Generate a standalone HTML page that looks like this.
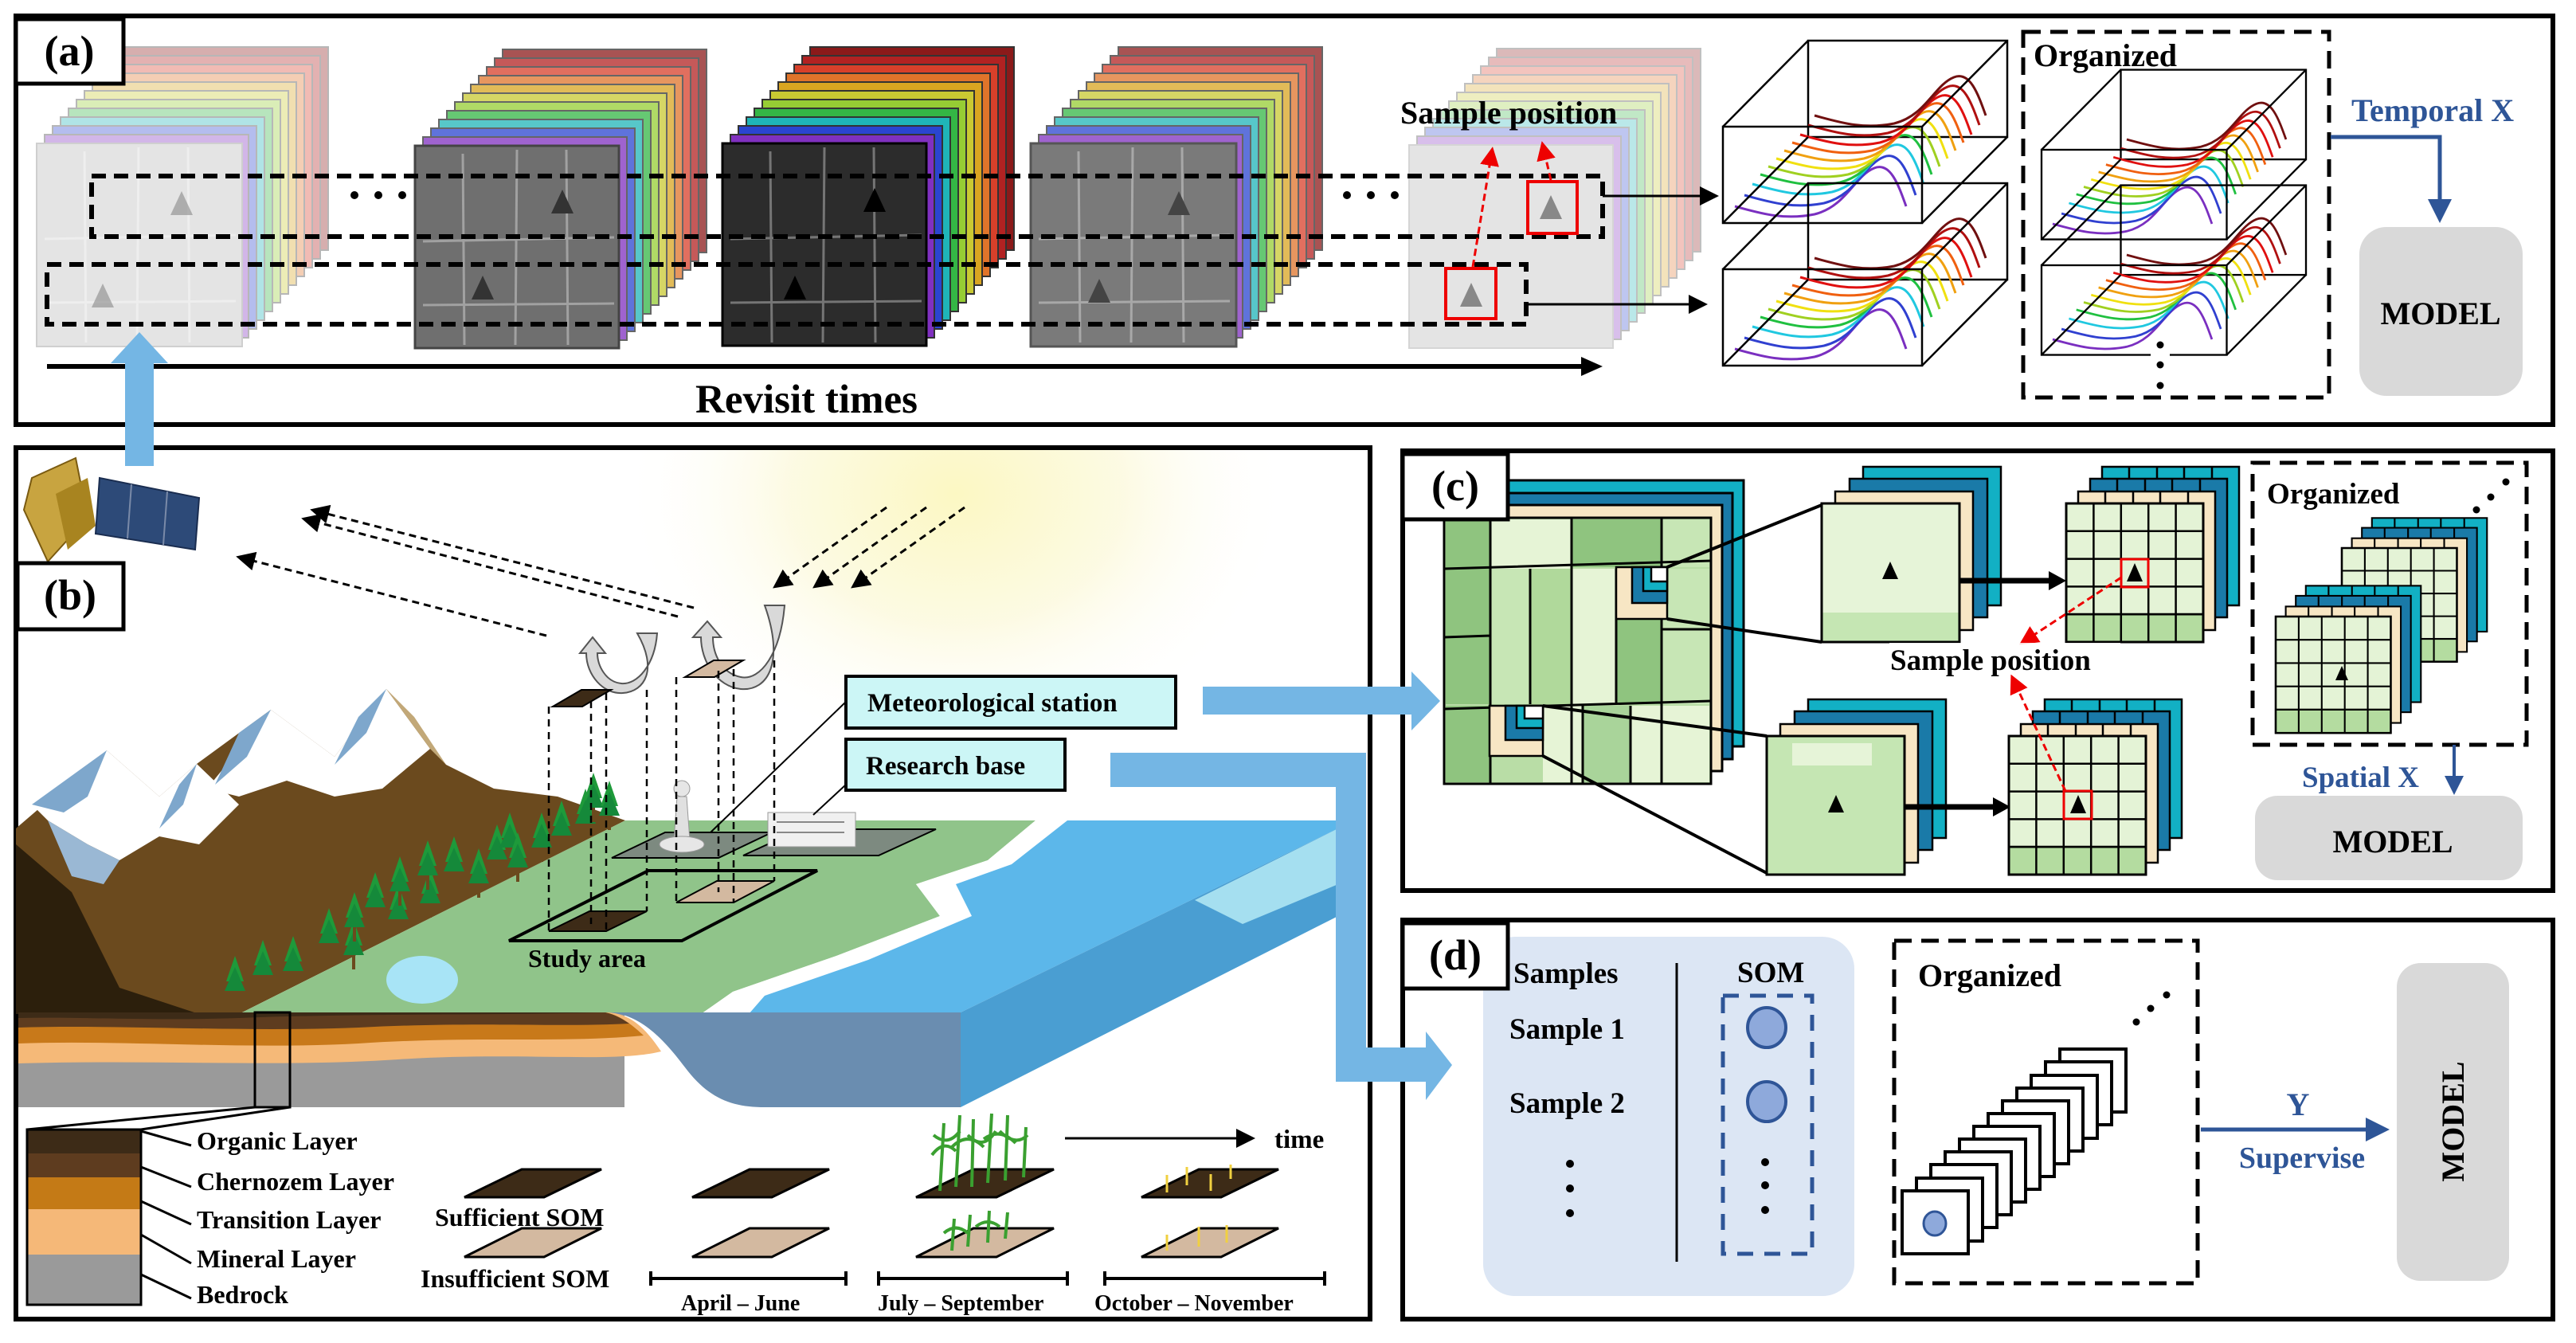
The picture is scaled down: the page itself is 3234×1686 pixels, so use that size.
<!DOCTYPE html>
<html><head><meta charset="utf-8"><style>
html,body{margin:0;padding:0;background:#fff;}
svg{display:block;}
text{font-family:"Liberation Serif",serif;font-weight:bold;}
</style></head><body>
<svg width="3234" height="1686" viewBox="0 0 3234 1686" xmlns="http://www.w3.org/2000/svg">
<defs>
<radialGradient id="sun" cx="0.5" cy="0.5" r="0.5">
<stop offset="0" stop-color="#fbf6b4"/><stop offset="0.5" stop-color="#fcf9dc"/><stop offset="1" stop-color="#ffffff" stop-opacity="0"/>
</radialGradient>
<clipPath id="clipb"><rect x="23" y="565" width="1694" height="1088"/></clipPath>
<marker id="ah" markerWidth="8" markerHeight="8" refX="6" refY="4" orient="auto" markerUnits="strokeWidth"><path d="M0,0 L8,4 L0,8 z" fill="#000"/></marker>
<marker id="ahr" markerWidth="8" markerHeight="8" refX="6" refY="4" orient="auto" markerUnits="strokeWidth"><path d="M0,0 L8,4 L0,8 z" fill="#e00"/></marker>
<marker id="ahb" markerWidth="6" markerHeight="6" refX="4" refY="3" orient="auto" markerUnits="strokeWidth"><path d="M0,0 L6,3 L0,6 z" fill="#2e5597"/></marker>
<g id="layers">
<rect x="110" y="-121" width="256" height="255" fill="#8b1a1a" stroke="#333" stroke-width="2"/>
<rect x="100" y="-110" width="256" height="255" fill="#b22222" stroke="#333" stroke-width="2"/>
<rect x="90" y="-99" width="256" height="255" fill="#d8402a" stroke="#333" stroke-width="2"/>
<rect x="80" y="-88" width="256" height="255" fill="#e0742a" stroke="#333" stroke-width="2"/>
<rect x="70" y="-77" width="256" height="255" fill="#d9a521" stroke="#333" stroke-width="2"/>
<rect x="60" y="-66" width="256" height="255" fill="#c9c932" stroke="#333" stroke-width="2"/>
<rect x="50" y="-55" width="256" height="255" fill="#96cd34" stroke="#333" stroke-width="2"/>
<rect x="40" y="-44" width="256" height="255" fill="#34b645" stroke="#333" stroke-width="2"/>
<rect x="30" y="-33" width="256" height="255" fill="#1fb5b8" stroke="#333" stroke-width="2"/>
<rect x="20" y="-22" width="256" height="255" fill="#2a45d0" stroke="#333" stroke-width="2"/>
<rect x="10" y="-11" width="256" height="255" fill="#8030c0" stroke="#333" stroke-width="2"/>
</g>
<g id="fieldlines" stroke="#ffffff" stroke-opacity="0.35" stroke-width="3" fill="none">
<path d="M10,120 L250,115 M128,5 L126,250 M10,200 L250,198 M60,10 L62,250 M190,5 L192,250"/>
</g>
<g id="curves" fill="none" stroke-width="3">
<path d="M0,40 C30,48 60,58 100,50 C140,40 150,2 175,-8 C195,-16 205,12 215,40" stroke="#7a2fc0" transform="translate(0,40)"/>
<path d="M0,40 C30,48 60,58 100,50 C140,40 150,2 175,-8 C195,-16 205,12 215,40" stroke="#3040d0" transform="translate(12,26)"/>
<path d="M0,40 C30,48 60,58 100,50 C140,40 150,2 175,-8 C195,-16 205,12 215,40" stroke="#20c8e0" transform="translate(22,12)"/>
<path d="M0,40 C30,48 60,58 100,50 C140,40 150,2 175,-8 C195,-16 205,12 215,40" stroke="#20c040" transform="translate(32,0)"/>
<path d="M0,40 C30,48 60,58 100,50 C140,40 150,2 175,-8 C195,-16 205,12 215,40" stroke="#a0d020" transform="translate(42,-10)"/>
<path d="M0,40 C30,48 60,58 100,50 C140,40 150,2 175,-8 C195,-16 205,12 215,40" stroke="#f0e010" transform="translate(52,-20)"/>
<path d="M0,40 C30,48 60,58 100,50 C140,40 150,2 175,-8 C195,-16 205,12 215,40" stroke="#f0a010" transform="translate(62,-30)"/>
<path d="M0,40 C30,48 60,58 100,50 C140,40 150,2 175,-8 C195,-16 205,12 215,40" stroke="#f06010" transform="translate(72,-40)"/>
<path d="M0,40 C30,48 60,58 100,50 C140,40 150,2 175,-8 C195,-16 205,12 215,40" stroke="#e01010" transform="translate(82,-50)"/>
<path d="M0,40 C30,48 60,58 100,50 C140,40 150,2 175,-8 C195,-16 205,12 215,40" stroke="#b01010" transform="translate(92,-62)"/>
<path d="M0,40 C30,48 60,58 100,50 C140,40 150,2 175,-8 C195,-16 205,12 215,40" stroke="#701010" transform="translate(100,-74)"/>
</g>
<g id="cube" fill="none" stroke="#000" stroke-width="2.5">
<rect x="107" y="-108" width="250" height="121"/>
<use href="#curves" transform="translate(15,20)"/>
<rect x="0" y="0" width="250" height="121"/>
<path d="M0,0 L107,-108 M250,0 L357,-108 M250,121 L357,13 M0,121 L107,13"/>
</g>
<g id="tree"><rect x="-2" y="0" width="4" height="22" fill="#6b4a1e"/><polygon points="0,-40 -11,-8 11,-8" fill="#1e9a3a"/><polygon points="0,-26 -13,4 13,4" fill="#15893a"/></g>
<g id="grid5" stroke="#000" stroke-width="2.5">
<rect x="0" y="0" width="172" height="174" fill="#e4f3d6"/>
<rect x="0" y="139" width="172" height="35" fill="#b4dca0"/>
<path d="M34.4,0 V174 M68.8,0 V174 M103.2,0 V174 M137.6,0 V174 M0,34.8 H172 M0,69.6 H172 M0,104.4 H172 M0,139.2 H172" fill="none"/>
<rect x="0" y="0" width="172" height="174" fill="none" stroke-width="3"/>
</g>
<g id="gridback" stroke="#000" stroke-width="2.5">
<rect x="45" y="-46" width="172" height="174" fill="#12b0c4"/>
<path d="M79,-46 V-28 M114,-46 V-28 M148,-46 V-28 M183,-46 V-28" fill="none"/>
<rect x="30" y="-31" width="172" height="174" fill="#1a7aa8"/>
<path d="M64,-31 V-13 M99,-31 V-13 M133,-31 V-13 M168,-31 V-13" fill="none"/>
<rect x="15" y="-15" width="172" height="174" fill="#f7e6c4"/>
<path d="M49,-15 V0 M84,-15 V0 M118,-15 V0 M153,-15 V0" fill="none"/>
<use href="#grid5"/>
</g>
<g id="tileback" stroke="#000" stroke-width="2.5">
<rect x="52" y="-46" width="173" height="174" fill="#12b0c4"/>
<rect x="35" y="-31" width="173" height="174" fill="#1a7aa8"/>
<rect x="17" y="-15" width="173" height="174" fill="#f7e6c4"/>
<rect x="0" y="0" width="173" height="174" fill="#e6f4d8"/>
</g>
<g id="frame"><rect x="0" y="0" width="83" height="79" fill="#fff" stroke="#000" stroke-width="4"/></g>
</defs>

<!-- ============ PANEL A ============ -->
<rect x="20" y="20" width="3185" height="513" fill="#fff" stroke="#000" stroke-width="6"/>
<g opacity="0.35"><use href="#layers" x="46" y="180"/><rect x="46" y="180" width="258" height="255" fill="#b5b5b5" stroke="#777" stroke-width="2"/><use href="#fieldlines" x="46" y="180"/></g>
<g opacity="0.75"><use href="#layers" x="521" y="183"/></g>
<rect x="521" y="183" width="256" height="254" fill="#6f6f6f" stroke="#444" stroke-width="3"/><use href="#fieldlines" x="521" y="183"/>
<use href="#layers" x="907" y="180"/>
<rect x="907" y="180" width="256" height="254" fill="#2c2c2c" stroke="#000" stroke-width="3"/><use href="#fieldlines" x="907" y="180"/>
<g opacity="0.75"><use href="#layers" x="1294" y="180"/></g>
<rect x="1294" y="180" width="258" height="255" fill="#7a7a7a" stroke="#555" stroke-width="3"/><use href="#fieldlines" x="1294" y="180"/>
<g opacity="0.3"><use href="#layers" x="1769" y="182"/><rect x="1769" y="182" width="256" height="255" fill="#a8a8a8" stroke="#777" stroke-width="2"/></g>
<g>
<polygon points="228,240 214,270 242,270" fill="#888" opacity="0.6"/>
<polygon points="129,356 115,386 143,386" fill="#888" opacity="0.6"/>
<polygon points="706,238 692,268 720,268" fill="#333"/>
<polygon points="606,346 592,376 620,376" fill="#333"/>
<polygon points="1098,236 1084,266 1112,266" fill="#000"/>
<polygon points="998,346 984,376 1012,376" fill="#000"/>
<polygon points="1480,240 1466,270 1494,270" fill="#444"/>
<polygon points="1380,350 1366,380 1394,380" fill="#444"/>
<polygon points="1947,245 1933,275 1961,275" fill="#888"/>
<polygon points="1847,355 1833,385 1861,385" fill="#888"/>
</g>
<rect x="115" y="221" width="1897" height="76" fill="none" stroke="#000" stroke-width="6" stroke-dasharray="18,10"/>
<rect x="59" y="332" width="1857" height="75" fill="none" stroke="#000" stroke-width="6" stroke-dasharray="18,10"/>
<g fill="#000"><circle cx="445" cy="245" r="5"/><circle cx="475" cy="245" r="5"/><circle cx="505" cy="245" r="5"/>
<circle cx="1691" cy="245" r="5"/><circle cx="1721" cy="245" r="5"/><circle cx="1751" cy="245" r="5"/></g>
<rect x="1918" y="228" width="62" height="65" fill="none" stroke="#e00" stroke-width="4"/>
<rect x="1815" y="337" width="63" height="63" fill="none" stroke="#e00" stroke-width="4"/>
<line x1="1947" y1="226" x2="1937" y2="183" stroke="#e00" stroke-width="3" stroke-dasharray="9,5" marker-end="url(#ahr)"/>
<line x1="1849" y1="335" x2="1873" y2="190" stroke="#e00" stroke-width="3" stroke-dasharray="9,5" marker-end="url(#ahr)"/>
<text x="1758" y="155" font-size="40">Sample position</text>
<line x1="2012" y1="246" x2="2152" y2="246" stroke="#000" stroke-width="3" marker-end="url(#ah)"/>
<line x1="1916" y1="382" x2="2138" y2="382" stroke="#000" stroke-width="3" marker-end="url(#ah)"/>
<line x1="59" y1="460" x2="1990" y2="460" stroke="#000" stroke-width="6"/>
<polygon points="1985,448 2012,460 1985,472" fill="#000"/>
<text x="873" y="518" font-size="51">Revisit times</text>
<use href="#cube" x="2163" y="159"/>
<use href="#cube" x="2163" y="338"/>
<rect x="2540" y="40" width="384" height="459" fill="none" stroke="#000" stroke-width="5" stroke-dasharray="22,12"/>
<rect x="2550" y="50" width="210" height="40" fill="#fff"/>
<text x="2553" y="83" font-size="40">Organized</text>
<use href="#cube" transform="translate(2563,188) scale(0.93,0.93)"/>
<use href="#cube" transform="translate(2563,333) scale(0.93,0.93)"/>
<rect x="2700" y="425" width="24" height="70" fill="#fff"/>
<g fill="#000"><circle cx="2712" cy="433" r="4.5"/><circle cx="2712" cy="458" r="4.5"/><circle cx="2712" cy="484" r="4.5"/></g>
<text x="2952" y="152" font-size="40" fill="#2e5597">Temporal X</text>
<polyline points="2926,172 3063,172 3063,270" fill="none" stroke="#2e5597" stroke-width="5" marker-end="url(#ahb)"/>
<rect x="2962" y="285" width="205" height="212" rx="34" fill="#d9d9d9"/>
<text x="3064" y="407" font-size="40" text-anchor="middle">MODEL</text>
<rect x="20" y="24" width="135" height="81" fill="#fff" stroke="#000" stroke-width="5"/>
<text x="87" y="82" font-size="54" text-anchor="middle" font-weight="normal">(a)</text>

<!-- ============ PANEL B ============ -->
<rect x="20" y="562" width="1700" height="1094" fill="#fff" stroke="#000" stroke-width="6"/>
<g clip-path="url(#clipb)"><ellipse cx="1200" cy="620" rx="420" ry="330" fill="url(#sun)" opacity="0.8"/></g>
<rect x="157" y="450" width="36" height="135" fill="#74b6e4"/>
<polygon points="139,456 175,417 211,456" fill="#74b6e4"/>
<g>
<polygon points="40,600 95,575 110,650 60,705 30,640" fill="#c8a440" stroke="#7a5a10" stroke-width="2"/>
<polygon points="70,620 110,600 120,660 85,690" fill="#a88420"/>
<polygon points="125,600 250,625 245,690 120,670" fill="#2d4a78" stroke="#1a2d50" stroke-width="2"/>
<line x1="165" y1="608" x2="160" y2="676" stroke="#7a8aa8" stroke-width="2"/><line x1="210" y1="617" x2="205" y2="684" stroke="#7a8aa8" stroke-width="2"/>
</g>
<g stroke="#000" stroke-width="3" stroke-dasharray="9,6" fill="none">
<line x1="871" y1="763" x2="395" y2="641" marker-end="url(#ah)"/>
<line x1="851" y1="774" x2="384" y2="652" marker-end="url(#ah)"/>
<line x1="686" y1="798" x2="302" y2="700" marker-end="url(#ah)"/>
<line x1="1113" y1="637" x2="975" y2="735" marker-end="url(#ah)"/>
<line x1="1163" y1="637" x2="1025" y2="735" marker-end="url(#ah)"/>
<line x1="1211" y1="637" x2="1073" y2="735" marker-end="url(#ah)"/>
</g>
<path d="M960,760 L985,760 C980,820 955,855 930,850 C905,845 895,820 895,800 L905,800 L888,780 L870,800 L880,800 C880,830 900,862 930,865 C965,868 985,830 960,760 Z" fill="#d9d9d9" stroke="#555" stroke-width="2"/>
<path d="M800,795 L825,795 C822,835 800,860 780,858 C760,856 750,835 750,820 L760,820 L744,800 L728,820 L736,820 C736,848 758,872 782,870 C810,868 826,840 800,795 Z" fill="#d9d9d9" stroke="#555" stroke-width="2"/>
<!-- mountains -->
<polygon points="20,1273 20,1040 134,942 200,1000 247,959 340,891 420,950 485,865 560,960 620,990 700,1000 785,1030 300,1273" fill="#6b4a1e"/>
<polygon points="20,1273 20,1060 90,1120 150,1240 250,1273" fill="#2c1f0c"/>
<polygon points="134,942 200,1000 247,959 300,1010 250,1060 200,1050 150,1080 110,1060 60,1030 40,1010" fill="#ffffff"/>
<polygon points="134,942 110,1000 80,1020 40,1010" fill="#7ea7cc"/>
<polygon points="340,891 420,950 485,865 540,940 480,990 420,1000 360,980 300,1000 260,990" fill="#ffffff"/>
<polygon points="340,891 310,950 270,985 300,920" fill="#7ea7cc"/>
<polygon points="485,865 460,920 420,960 450,900" fill="#7ea7cc"/>
<polygon points="485,865 540,940 560,960 520,900" fill="#c2a878"/>
<polygon points="247,959 230,1010 200,1040 225,985" fill="#7ea7cc"/>
<polygon points="60,1030 110,1060 150,1080 130,1110 90,1100" fill="#9ab8d4"/>
<polygon points="300,1273 785,1030 1300,1030 1240,1080 1150,1110 1180,1150 1050,1200 920,1245 880,1273" fill="#90c48a"/>
<polygon points="1300,1030 1340,1030 1270,1085 1200,1110 1220,1150 1090,1205 960,1250 940,1273 880,1273 920,1245 1050,1200 1180,1150 1150,1110 1240,1080" fill="#ffffff"/>
<polygon points="1340,1030 1680,1030 1680,1040 1206,1271 940,1273 960,1250 1090,1205 1220,1150 1200,1110 1270,1085" fill="#5cb7ea"/>
<polygon points="1206,1271 1680,1040 1680,1150 1206,1390" fill="#4a9ed2"/>
<polygon points="1500,1130 1680,1040 1680,1110 1560,1160" fill="#a5dff0"/>
<ellipse cx="530" cy="1230" rx="45" ry="30" fill="#a8e4f6"/>
<g>
<use href="#tree" x="295" y="1240"/><use href="#tree" x="330" y="1220"/><use href="#tree" x="368" y="1215"/>
<use href="#tree" x="413" y="1180"/><use href="#tree" x="444" y="1195"/><use href="#tree" x="445" y="1160"/>
<use href="#tree" x="471" y="1135"/><use href="#tree" x="500" y="1150"/><use href="#tree" x="502" y="1115"/>
<use href="#tree" x="540" y="1130"/><use href="#tree" x="537" y="1095"/><use href="#tree" x="570" y="1090"/>
<use href="#tree" x="601" y="1105"/><use href="#tree" x="624" y="1075"/><use href="#tree" x="640" y="1060"/>
<use href="#tree" x="650" y="1085"/><use href="#tree" x="680" y="1060"/><use href="#tree" x="705" y="1045"/>
<use href="#tree" x="735" y="1030"/><use href="#tree" x="745" y="1010"/><use href="#tree" x="765" y="1020"/>
</g>
<rect x="23" y="1271" width="761" height="119" fill="#9a9a9a"/>
<path d="M23,1271 H760 C800,1271 830,1300 860,1340 C890,1380 920,1390 960,1390 H1206 V1271 Z" fill="#6a8db0"/>
<path d="M23,1271 H760 C790,1271 810,1290 830,1320 C770,1335 650,1320 500,1330 C350,1340 200,1330 23,1335 Z" fill="#f5b978"/>
<path d="M23,1271 H760 C780,1275 795,1288 808,1300 C700,1310 600,1300 450,1310 C300,1318 150,1305 23,1310 Z" fill="#c8791a"/>
<path d="M23,1271 H760 C770,1273 780,1278 790,1285 C700,1290 600,1282 450,1290 C300,1296 150,1286 23,1290 Z" fill="#5e3c1f"/>
<path d="M23,1271 H755 C620,1275 450,1272 300,1278 C180,1282 100,1276 23,1278 Z" fill="#3d2b17"/>
<rect x="320" y="1271" width="44" height="119" fill="none" stroke="#000" stroke-width="3"/>
<line x1="34" y1="1418" x2="320" y2="1390" stroke="#000" stroke-width="3"/>
<line x1="177" y1="1418" x2="364" y2="1390" stroke="#000" stroke-width="3"/>
<polygon points="768,1077 835,1045 969,1045 902,1077" fill="#7d8a80" stroke="#000" stroke-width="2"/>
<polygon points="933,1074 1005,1041 1175,1041 1103,1074" fill="#7d8a80" stroke="#000" stroke-width="2"/>
<polygon points="845,1069 850,1000 862,1000 867,1069" fill="#e0e0e0" stroke="#999"/>
<circle cx="856" cy="990" r="10" fill="#e6e6e6" stroke="#999"/>
<ellipse cx="856" cy="1060" rx="28" ry="10" fill="#e6e6e6" stroke="#999"/>
<rect x="964" y="1020" width="110" height="43" fill="#f0f0f0" stroke="#999"/>
<g stroke="#888" stroke-width="2"><line x1="975" y1="1032" x2="1060" y2="1032"/><line x1="975" y1="1045" x2="1060" y2="1045"/></g>
<polygon points="639,1181 814,1093 1026,1093 856,1181" fill="none" stroke="#000" stroke-width="4"/>
<polygon points="689,1169 740,1144 812,1144 761,1169" fill="#3d2b17" stroke="#000" stroke-width="2"/>
<polygon points="849,1133 900,1106 972,1106 921,1133" fill="#d3b9a0" stroke="#000" stroke-width="2"/>
<polygon points="694,887 730,866 767,866 731,887" fill="#3d2b17" stroke="#000" stroke-width="2"/>
<polygon points="860,850 896,829 933,829 897,850" fill="#d3b9a0" stroke="#000" stroke-width="2"/>
<g stroke="#000" stroke-width="2.5" stroke-dasharray="9,7">
<line x1="689" y1="887" x2="689" y2="1169"/><line x1="742" y1="880" x2="742" y2="1160"/>
<line x1="761" y1="870" x2="761" y2="1169"/><line x1="812" y1="866" x2="812" y2="1144"/>
<line x1="849" y1="850" x2="849" y2="1133"/><line x1="902" y1="842" x2="902" y2="1120"/>
<line x1="921" y1="840" x2="921" y2="1133"/><line x1="972" y1="829" x2="972" y2="1106"/>
</g>
<text x="663" y="1214" font-size="32">Study area</text>
<line x1="1062" y1="881" x2="892" y2="1045" stroke="#000" stroke-width="2"/>
<line x1="1062" y1="985" x2="1021" y2="1023" stroke="#000" stroke-width="2"/>
<rect x="1062" y="849" width="414" height="65" fill="#ccf6f6" stroke="#000" stroke-width="4"/>
<text x="1089" y="893" font-size="33">Meteorological station</text>
<rect x="1062" y="928" width="275" height="64" fill="#ccf6f6" stroke="#000" stroke-width="4"/>
<text x="1087" y="972" font-size="33">Research base</text>
<rect x="34" y="1418" width="143" height="30" fill="#3d2b17"/>
<rect x="34" y="1448" width="143" height="30" fill="#5e3c1f"/>
<rect x="34" y="1478" width="143" height="40" fill="#c47a16"/>
<rect x="34" y="1518" width="143" height="57" fill="#f5b878"/>
<rect x="34" y="1575" width="143" height="63" fill="#9a9a9a"/>
<rect x="34" y="1418" width="143" height="220" fill="none" stroke="#000" stroke-width="3"/>
<g stroke="#000" stroke-width="3">
<line x1="177" y1="1420" x2="240" y2="1438"/><line x1="177" y1="1465" x2="240" y2="1490"/>
<line x1="177" y1="1508" x2="240" y2="1537"/><line x1="177" y1="1550" x2="240" y2="1586"/>
<line x1="177" y1="1600" x2="240" y2="1630"/>
</g>
<g font-size="32">
<text x="247" y="1443">Organic Layer</text>
<text x="247" y="1494">Chernozem Layer</text>
<text x="247" y="1542">Transition Layer</text>
<text x="247" y="1591">Mineral Layer</text>
<text x="247" y="1636">Bedrock</text>
<text x="546" y="1539">Sufficient SOM</text>
<text x="528" y="1616">Insufficient SOM</text>
</g>
<g stroke="#000" stroke-width="3">
<polygon points="583,1503 655,1468 755,1468 683,1503" fill="#3d2b17"/>
<polygon points="583,1578 655,1542 755,1542 683,1578" fill="#d3b9a0"/>
<polygon points="869,1503 941,1468 1041,1468 969,1503" fill="#3d2b17"/>
<polygon points="869,1578 941,1542 1041,1542 969,1578" fill="#d3b9a0"/>
<polygon points="1150,1503 1222,1468 1323,1468 1251,1503" fill="#3d2b17"/>
<polygon points="1150,1578 1222,1542 1323,1542 1251,1578" fill="#d3b9a0"/>
<polygon points="1433,1503 1505,1468 1605,1468 1533,1503" fill="#3d2b17"/>
<polygon points="1433,1578 1505,1542 1605,1542 1533,1578" fill="#d3b9a0"/>
</g>
<g stroke="#3aa030" stroke-width="4" fill="none">
<path d="M1180,1495 L1185,1410 M1200,1490 L1205,1400 M1220,1490 L1222,1405 M1240,1485 L1245,1398 M1262,1482 L1265,1400 M1285,1478 L1288,1415"/>
<path d="M1170,1450 Q1185,1430 1200,1445 M1195,1440 Q1215,1420 1235,1440 M1235,1430 Q1255,1415 1275,1435 M1172,1425 Q1190,1440 1205,1420 M1215,1425 Q1235,1445 1250,1420 M1255,1420 Q1275,1440 1290,1425"/>
<path d="M1195,1570 L1198,1530 M1215,1565 L1218,1525 M1240,1560 L1242,1520 M1262,1555 L1265,1522"/>
<path d="M1185,1548 Q1200,1535 1215,1548 M1225,1540 Q1240,1528 1255,1540"/>
</g>
<g stroke="#f0d040" stroke-width="3">
<line x1="1465" y1="1497" x2="1465" y2="1475"/><line x1="1490" y1="1488" x2="1490" y2="1465"/><line x1="1520" y1="1495" x2="1520" y2="1474"/><line x1="1545" y1="1480" x2="1545" y2="1462"/>
<line x1="1465" y1="1570" x2="1465" y2="1550"/><line x1="1505" y1="1565" x2="1505" y2="1540"/><line x1="1540" y1="1560" x2="1540" y2="1538"/>
</g>
<line x1="1337" y1="1429" x2="1570" y2="1429" stroke="#000" stroke-width="3" marker-end="url(#ah)"/>
<text x="1600" y="1441" font-size="33">time</text>
<g stroke="#000" stroke-width="4">
<line x1="815" y1="1605" x2="1064" y2="1605"/><line x1="817" y1="1596" x2="817" y2="1614"/><line x1="1062" y1="1596" x2="1062" y2="1614"/>
<line x1="1101" y1="1605" x2="1342" y2="1605"/><line x1="1103" y1="1596" x2="1103" y2="1614"/><line x1="1340" y1="1596" x2="1340" y2="1614"/>
<line x1="1385" y1="1605" x2="1665" y2="1605"/><line x1="1387" y1="1596" x2="1387" y2="1614"/><line x1="1663" y1="1596" x2="1663" y2="1614"/>
</g>
<g font-size="28">
<text x="855" y="1645">April – June</text>
<text x="1102" y="1645">July – September</text>
<text x="1374" y="1645">October – November</text>
</g>
<rect x="22" y="707" width="133" height="83" fill="#fff" stroke="#000" stroke-width="5"/>
<text x="88" y="765" font-size="54" text-anchor="middle" font-weight="normal">(b)</text>

<!-- ============ PANEL C ============ -->
<rect x="1761" y="566" width="1444" height="552" fill="#fff" stroke="#000" stroke-width="6"/>
<g stroke="#000" stroke-width="3">
<rect x="1854" y="603" width="335" height="334" fill="#12b0c4"/>
<rect x="1840" y="619" width="335" height="334" fill="#1a7aa8"/>
<rect x="1827" y="634" width="335" height="334" fill="#f7e6c4"/>
<rect x="1813" y="650" width="335" height="334" fill="#b9dda6"/>
</g>
<rect x="1815" y="652" width="56" height="62" fill="#8fc47f"/>
<rect x="1871" y="652" width="102" height="62" fill="#e6f4d6"/>
<rect x="1973" y="652" width="113" height="60" fill="#8fc47f"/>
<rect x="2086" y="652" width="60" height="60" fill="#c7e6b5"/>
<rect x="1815" y="714" width="56" height="170" fill="#8fc47f"/>
<rect x="1871" y="714" width="50" height="170" fill="#c7e6b5"/>
<rect x="1921" y="714" width="52" height="170" fill="#b0d99b"/>
<rect x="1973" y="714" width="56" height="170" fill="#e6f4d6"/>
<rect x="2029" y="714" width="57" height="170" fill="#8fc47f"/>
<rect x="2086" y="714" width="60" height="170" fill="#c7e6b5"/>
<rect x="1815" y="886" width="55" height="96" fill="#8fc47f"/>
<rect x="1937" y="886" width="50" height="96" fill="#e6f4d6"/>
<rect x="1987" y="886" width="60" height="96" fill="#a9d49a"/>
<rect x="2047" y="886" width="99" height="96" fill="#e6f4d6"/>
<g stroke="#000" stroke-width="3" fill="none">
<path d="M1813,714 L2148,704 M1813,890 L2148,880 M1871,650 V984 M1973,650 V984 M2086,650 V984 M1921,714 V884 M2029,714 V884 M1987,886 V984 M2047,886 V984 M1813,800 L1871,798 M2086,790 H2148"/>
<rect x="1813" y="650" width="335" height="334"/>
</g>
<g stroke="#000" stroke-width="2.5">
<rect x="2029" y="712" width="64" height="65" fill="#f7e6c4"/>
<rect x="2049" y="712" width="44" height="45" fill="#1a7aa8"/>
<rect x="2063" y="712" width="30" height="30" fill="#12b0c4"/>
<rect x="2073" y="712" width="20" height="18" fill="#fff"/>
<rect x="1870" y="886" width="67" height="63" fill="#f7e6c4"/>
<rect x="1890" y="886" width="47" height="43" fill="#1a7aa8"/>
<rect x="1904" y="886" width="33" height="28" fill="#12b0c4"/>
<rect x="1914" y="886" width="23" height="16" fill="#fff"/>
</g>
<g stroke="#000" stroke-width="4">
<line x1="2093" y1="712" x2="2287" y2="634"/><line x1="2093" y1="777" x2="2287" y2="806"/>
<line x1="1937" y1="886" x2="2218" y2="924"/><line x1="1937" y1="949" x2="2218" y2="1096"/>
</g>
<use href="#tileback" x="2287" y="632"/>
<rect x="2288" y="769" width="171" height="36" fill="#c5e6b3"/>
<rect x="2287" y="632" width="173" height="174" fill="none" stroke="#000" stroke-width="3"/>
<polygon points="2373,705 2363,727 2383,727" fill="#000"/>
<use href="#tileback" x="2218" y="924"/>
<rect x="2219" y="925" width="171" height="172" fill="#c5e6b3"/>
<rect x="2250" y="933" width="100" height="28" fill="#e6f4d8"/>
<rect x="2218" y="924" width="173" height="174" fill="none" stroke="#000" stroke-width="3"/>
<polygon points="2305,998 2295,1020 2315,1020" fill="#000"/>
<line x1="2460" y1="729" x2="2575" y2="729" stroke="#000" stroke-width="7"/>
<polygon points="2572,717 2594,729 2572,741" fill="#000"/>
<line x1="2391" y1="1013" x2="2505" y2="1013" stroke="#000" stroke-width="7"/>
<polygon points="2502,1001 2524,1013 2502,1025" fill="#000"/>
<use href="#gridback" x="2594" y="632"/>
<use href="#gridback" x="2522" y="924"/>
<polygon points="2680,707 2670,730 2690,730" fill="#000"/>
<polygon points="2609,998 2599,1021 2619,1021" fill="#000"/>
<rect x="2663" y="702" width="34" height="35" fill="none" stroke="#e00" stroke-width="3"/>
<rect x="2591" y="993" width="35" height="35" fill="none" stroke="#e00" stroke-width="3"/>
<line x1="2663" y1="725" x2="2540" y2="806" stroke="#e00" stroke-width="3" stroke-dasharray="9,5" marker-end="url(#ahr)"/>
<line x1="2593" y1="993" x2="2527" y2="852" stroke="#e00" stroke-width="3" stroke-dasharray="9,5" marker-end="url(#ahr)"/>
<rect x="2372" y="807" width="290" height="40" fill="#fff" opacity="0.85"/>
<text x="2373" y="841" font-size="37">Sample position</text>
<rect x="2828" y="581" width="344" height="354" fill="none" stroke="#000" stroke-width="5" stroke-dasharray="22,12"/>
<text x="2846" y="632" font-size="37">Organized</text>
<g fill="#000"><circle cx="3146" cy="605" r="4.5"/><circle cx="3127" cy="624" r="4.5"/><circle cx="3109" cy="640" r="4.5"/></g>
<use href="#gridback" transform="translate(2940,688) scale(0.84,0.82)"/>
<use href="#gridback" transform="translate(2857,774) scale(0.84,0.84)"/>
<polygon points="2940,836 2932,854 2948,854" fill="#000"/>
<text x="2890" y="988" font-size="37" fill="#2e5597">Spatial X</text>
<line x1="3081" y1="935" x2="3081" y2="990" stroke="#2e5597" stroke-width="4" marker-end="url(#ahb)"/>
<rect x="2831" y="999" width="336" height="106" rx="28" fill="#d9d9d9"/>
<text x="3004" y="1070" font-size="40" text-anchor="middle">MODEL</text>
<rect x="1761" y="570" width="132" height="82" fill="#fff" stroke="#000" stroke-width="5"/>
<text x="1827" y="628" font-size="54" text-anchor="middle" font-weight="normal">(c)</text>

<!-- ============ PANEL D ============ -->
<rect x="1761" y="1155" width="1444" height="501" fill="#fff" stroke="#000" stroke-width="6"/>
<rect x="1862" y="1176" width="466" height="451" rx="40" fill="#dce6f4"/>
<text x="1900" y="1234" font-size="37">Samples</text>
<text x="2181" y="1233" font-size="37" font-weight="normal">SOM</text>
<line x1="2105" y1="1209" x2="2105" y2="1584" stroke="#000" stroke-width="3"/>
<text x="1895" y="1304" font-size="37">Sample 1</text>
<text x="1895" y="1397" font-size="37">Sample 2</text>
<g fill="#000"><circle cx="1971" cy="1461" r="5"/><circle cx="1971" cy="1492" r="5"/><circle cx="1971" cy="1523" r="5"/>
<circle cx="2216" cy="1459" r="5"/><circle cx="2216" cy="1488" r="5"/><circle cx="2216" cy="1519" r="5"/></g>
<rect x="2163" y="1250" width="112" height="324" fill="none" stroke="#2e5597" stroke-width="5" stroke-dasharray="20,14"/>
<ellipse cx="2218" cy="1290" rx="24" ry="25" fill="#8ea9db" stroke="#2f5597" stroke-width="4"/>
<ellipse cx="2218" cy="1383" rx="24" ry="25" fill="#8ea9db" stroke="#2f5597" stroke-width="4"/>
<rect x="2378" y="1181" width="381" height="430" fill="none" stroke="#000" stroke-width="5" stroke-dasharray="22,12"/>
<text x="2408" y="1238" font-size="40">Organized</text>
<g fill="#000"><circle cx="2720" cy="1249" r="4.5"/><circle cx="2700" cy="1266" r="4.5"/><circle cx="2682" cy="1283" r="4.5"/></g>
<use href="#frame" x="2586" y="1317"/>
<use href="#frame" x="2568" y="1333"/>
<use href="#frame" x="2550" y="1350"/>
<use href="#frame" x="2532" y="1366"/>
<use href="#frame" x="2514" y="1382"/>
<use href="#frame" x="2496" y="1398"/>
<use href="#frame" x="2478" y="1414"/>
<use href="#frame" x="2460" y="1430"/>
<use href="#frame" x="2442" y="1446"/>
<use href="#frame" x="2424" y="1462"/>
<use href="#frame" x="2406" y="1479"/>
<use href="#frame" x="2388" y="1495"/>
<ellipse cx="2429" cy="1536" rx="14" ry="15" fill="#8ea9db" stroke="#2f5597" stroke-width="3"/>
<line x1="2763" y1="1418" x2="2990" y2="1418" stroke="#2e5597" stroke-width="5" marker-end="url(#ahb)"/>
<text x="2885" y="1400" font-size="40" fill="#2e5597" text-anchor="middle">Y</text>
<text x="2890" y="1466" font-size="38" fill="#2e5597" text-anchor="middle">Supervise</text>
<rect x="3009" y="1209" width="141" height="399" rx="30" fill="#d9d9d9"/>
<text x="0" y="0" font-size="40" text-anchor="middle" transform="translate(3093,1408) rotate(-90)">MODEL</text>
<rect x="1761" y="1159" width="132" height="82" fill="#fff" stroke="#000" stroke-width="5"/>
<text x="1827" y="1217" font-size="54" text-anchor="middle" font-weight="normal">(d)</text>

<!-- blue connector arrows on top -->
<polygon points="1510,862 1772,862 1772,843 1808,880 1772,917 1772,897 1510,897" fill="#74b6e4"/>
<polygon points="1394,945 1715,945 1715,1315 1790,1315 1790,1295 1823,1337 1790,1381 1790,1358 1677,1358 1677,988 1394,988" fill="#74b6e4"/>
</svg>
</body></html>
